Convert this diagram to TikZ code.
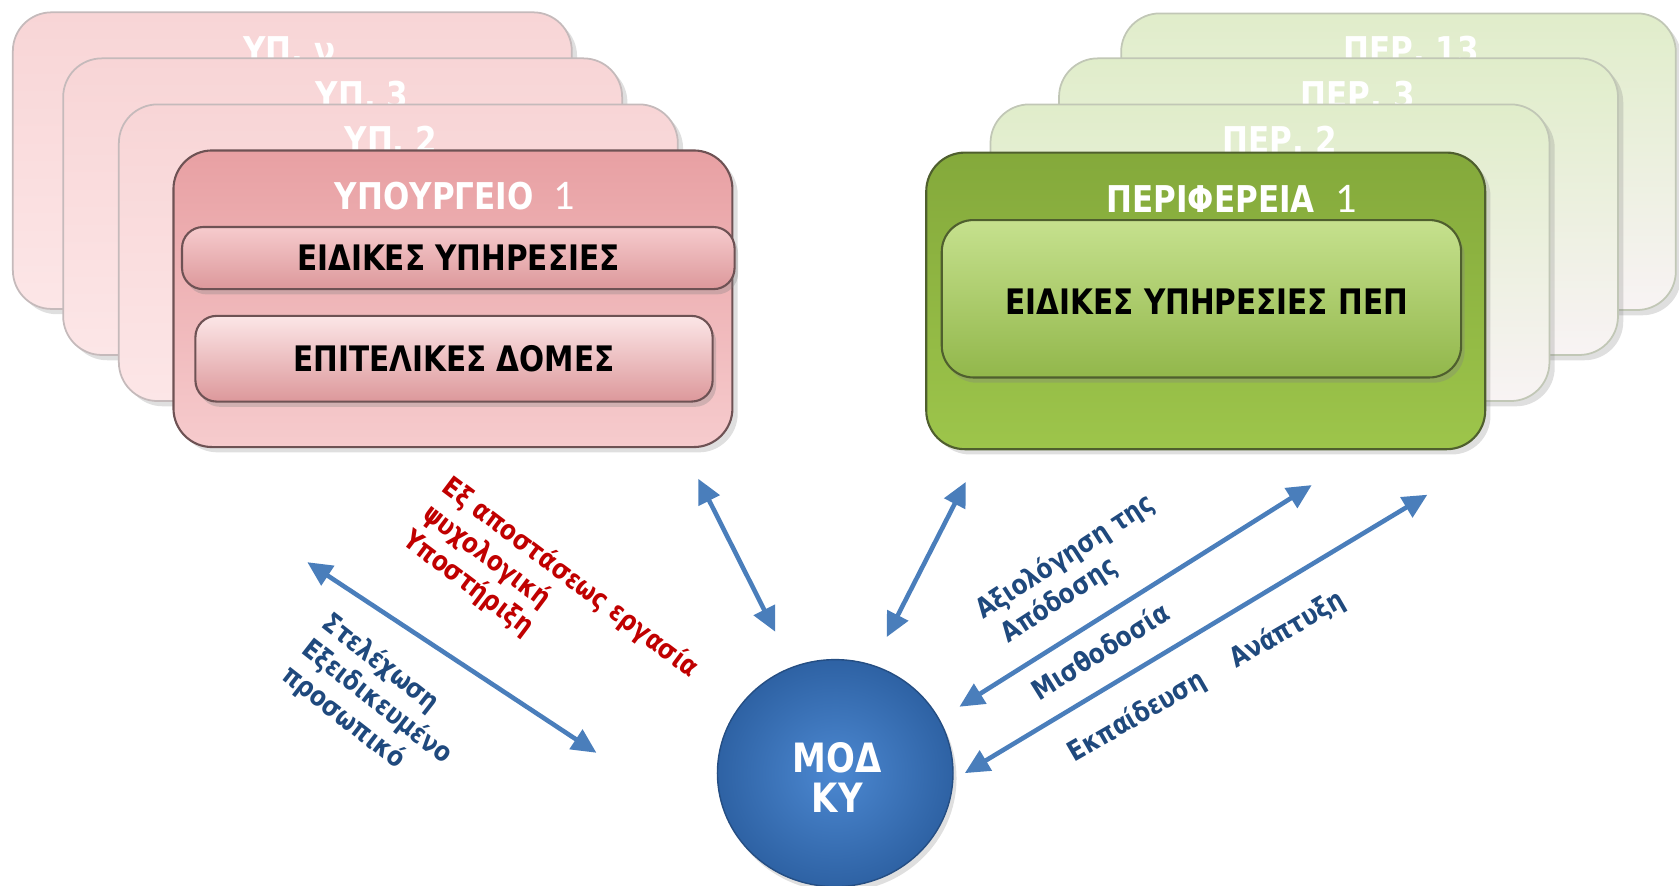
\documentclass[tikz,border=0pt]{standalone}
\usepackage{fontspec}
\setmainfont{DejaVu Sans}
\newfontfamily\condf[FakeStretch=0.84]{DejaVu Sans}
\newfontfamily\lblf[FakeStretch=0.84]{DejaVu Sans}
\newfontfamily\thinf{Carlito}
\usetikzlibrary{arrows.meta,shadows,shapes.geometric}
\definecolor{pinkA}{HTML}{E8A0A3}
\definecolor{pinkB}{HTML}{F6CBCD}
\definecolor{pinkBackA}{HTML}{F8D5D6}
\definecolor{pinkBackB}{HTML}{FCE6E7}
\definecolor{pinkEdge}{HTML}{6E5254}
\definecolor{greenA}{HTML}{84A93B}
\definecolor{greenB}{HTML}{9DC54B}
\definecolor{greenEdge}{HTML}{4F5F2E}
\definecolor{greenBackA}{HTML}{E0EDCA}
\definecolor{greenBackB}{HTML}{F8F3F4}
\definecolor{gbarTop}{HTML}{C6E18E}
\definecolor{gbarMid}{HTML}{EEF6E2}
\definecolor{gbarBot}{HTML}{92B74B}
\definecolor{hubIn}{HTML}{4C88D1}
\definecolor{hubOut}{HTML}{2E62A4}
\definecolor{arrowblue}{HTML}{4A7EBB}
\definecolor{labelblue}{HTML}{1F497D}
\definecolor{labelred}{HTML}{C00000}
\def\px{0.010708cm}
\tikzset{
  cardbase/.style={rectangle, rounded corners=11pt, minimum width=522*\px, minimum height=277*\px, inner sep=0pt,
    drop shadow={shadow xshift=1.5pt,shadow yshift=-1.5pt,opacity=0.25}},
  pinkback/.style={cardbase, draw=pinkEdge!40, line width=0.5pt, top color=pinkBackA, bottom color=pinkBackB},
  pinkfront/.style={cardbase, draw=pinkEdge, line width=0.6pt, top color=pinkA, bottom color=pinkB},
  greenback/.style={cardbase, draw=greenEdge!35, line width=0.5pt, top color=greenBackA, bottom color=greenBackB},
  greenfront/.style={cardbase, draw=greenEdge, line width=0.6pt, top color=greenA, bottom color=greenB},
  pinkbar/.style={rectangle, rounded corners=6pt, draw=pinkEdge, line width=0.6pt, inner sep=0pt,
    top color=#1, middle color=white!94!pinkA, bottom color=pinkA!95!black,
    drop shadow={shadow xshift=1pt,shadow yshift=-1.5pt,opacity=0.3}},
  greenbar/.style={rectangle, rounded corners=9pt, draw=greenEdge, line width=0.6pt, inner sep=0pt,
    top color=gbarTop, middle color=gbarMid, bottom color=gbarBot,
    drop shadow={shadow xshift=1pt,shadow yshift=-1.5pt,opacity=0.3}},
  backtitle/.style={text=white, font=\condf\bfseries\fontsize{10.5}{12}\selectfont, inner sep=0pt},
  fronttitle/.style={text=white, font=\condf\bfseries\fontsize{10.5}{12}\selectfont, inner sep=0pt},
  bartext/.style={text=black, font=\condf\bfseries\fontsize{10}{12}\selectfont, inner sep=0pt},
  dbl/.style={draw=arrowblue, line width=1.3pt, {Triangle[length=7pt,width=6.5pt]}-{Triangle[length=7pt,width=6.5pt]}},
  lbl/.style={font=\lblf\bfseries\fontsize{7.8}{9.4}\selectfont, inner sep=0pt, align=left},
}
\begin{document}
\begin{tikzpicture}[x=0.010708cm,y=-0.010708cm]
\useasboundingbox (0,0) rectangle (1568,827);
% left stack
\node[pinkback] (c1) at (273,150) {};
\node[backtitle] (t1) at (270,47) {ΥΠ. ν};
\node[pinkback] (c2) at (320,193) {};
\node[backtitle] (t2) at (338,89) {ΥΠ. 3};
\node[pinkback] (c3) at (372,236) {};
\node[backtitle] (t3) at (365,131) {ΥΠ. 2};
\node[pinkfront] (c4) at (423,279) {};
\node[fronttitle] (t4) at (425,183) {ΥΠΟΥΡΓΕΙΟ {\thinf\mdseries\fontsize{12}{12}\selectfont\ 1}};
\node[pinkbar=pinkB, minimum width=516*\px, minimum height=58*\px] (b1) at (428,241) {};
\node[bartext] at (b1) {ΕΙΔΙΚΕΣ ΥΠΗΡΕΣΙΕΣ};
\node[pinkbar=pinkBackB, minimum width=483*\px, minimum height=80*\px] (b2) at (424,335) {};
\node[bartext] at (b2) {ΕΠΙΤΕΛΙΚΕΣ ΔΟΜΕΣ};
% right stack
\node[greenback, minimum width=518*\px] (r1) at (1306,151) {};
\node[backtitle] (s1) at (1318,47) {ΠΕΡ. 13};
\node[greenback] (r2) at (1250,193) {};
\node[backtitle] (s2) at (1268,89) {ΠΕΡ. 3};
\node[greenback] (r3) at (1186,236) {};
\node[backtitle] (s3) at (1195,131) {ΠΕΡ. 2};
\node[greenfront] (r4) at (1126,281) {};
\node[fronttitle] (s4) at (1150,186) {ΠΕΡΙΦΕΡΕΙΑ {\thinf\mdseries\fontsize{12}{12}\selectfont\ 1}};
\node[greenbar, minimum width=485*\px, minimum height=147*\px] (g1) at (1122,279) {};
\node[bartext] at (1127,282) {ΕΙΔΙΚΕΣ ΥΠΗΡΕΣΙΕΣ ΠΕΠ};
% hub
\node[ellipse, minimum width=220*\px, minimum height=212*\px, inner sep=0pt,
  inner color=hubIn, outer color=hubOut, draw=hubOut!80!black, line width=0.4pt,
  drop shadow={shadow xshift=1pt,shadow yshift=-1.5pt,opacity=0.25}] (hub) at (780,722) {};
\node[text=white, font=\condf\bfseries\fontsize{11.5}{11.6}\selectfont, align=center, inner sep=0pt] (hubt) at (782,726) {ΜΟΔ\\ΚΥ};
% arrow end points
\coordinate (a1s) at (287,525); \coordinate (a1e) at (557,703);
\coordinate (a2s) at (652,447); \coordinate (a2e) at (724,590);
\coordinate (a3s) at (902,450); \coordinate (a3e) at (828,595);
\coordinate (a4s) at (1225,453); \coordinate (a4e) at (896,660);
\coordinate (a5s) at (1333,462); \coordinate (a5e) at (901,722);
\draw[dbl] (a1s) -- (a1e);
\draw[dbl] (a2s) -- (a2e);
\draw[dbl] (a3s) -- (a3e);
\draw[dbl] (a4s) -- (a4e);
\draw[dbl] (a5s) -- (a5e);
% labels
\node[lbl, text=labelred, rotate=-37, anchor=north west] (l1) at (424,441) {Εξ\ αποστάσεως\ εργασία\\ψυχολογική\\Υποστήριξη};
\node[lbl, text=labelblue, rotate=-38, anchor=north west] (l2) at (312,568) {Στελέχωση\\Εξειδικευμένο\\προσωπικό};
\node[lbl, text=labelblue, rotate=33, anchor=south west] (l3) at (938,610) {Αξιολόγηση της\\\ Απόδοσης};
\node[lbl, text=labelblue, rotate=32, anchor=base west] (l4) at (970,655) {Μισθοδοσία};
\node[lbl, text=labelblue, rotate=30, anchor=base west] (l5) at (1003,712) {Εκπαίδευση\hspace{1.2em}Ανάπτυξη};
\end{tikzpicture}
\end{document}
